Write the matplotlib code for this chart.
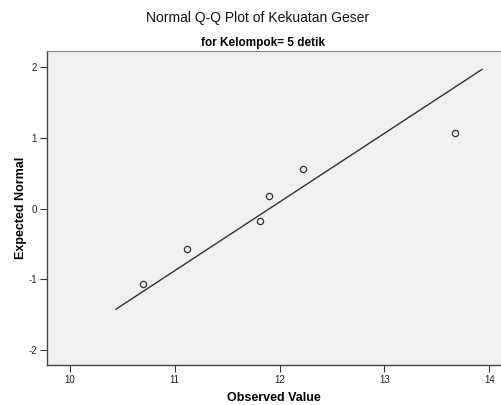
import numpy as np
import matplotlib.pyplot as plt

# observed values (Kekuatan Geser, Kelompok = 5 detik) and expected normal
observed = [10.70, 11.12, 11.81, 11.90, 12.22, 13.67]
expected = [-1.068, -0.566, -0.180, 0.180, 0.566, 1.068]

# reference line spans this range of observed values
line_x = [10.44, 13.93]

x_ticks = [10, 11, 12, 13, 14]
y_ticks = [-2, -1, 0, 1, 2]

plt.rcParams['font.family'] = ['Liberation Sans', 'DejaVu Sans']
plt.rcParams['axes.unicode_minus'] = False

fig = plt.figure(figsize=(5.02, 4.05), dpi=100)
ax = fig.add_axes([0.093, 0.099, 0.907, 0.776])
ax.set_facecolor('#f0f0f0')

mean = np.mean(observed)
sd = np.std(observed, ddof=1)
lx = np.array(line_x)
ax.plot(lx, (lx - mean) / sd, color='#333333', lw=1.0)

ax.plot(observed, expected, 'o', mfc='none', mec='#333333', ms=4.5, mew=0.9)

ax.set_xlim(9.78, 14.12)
ax.set_ylim(-2.21, 2.235)
ax.set_xticks(x_ticks)
ax.set_yticks(y_ticks)
ax.tick_params(labelsize=7, length=5, width=0.8, color='#333333',
               labelcolor='#222222', pad=2)

for side in ['left', 'bottom']:
    ax.spines[side].set_color('#444444')
    ax.spines[side].set_linewidth(1.0)
ax.spines['top'].set_color('#888888')
ax.spines['right'].set_visible(False)

ax.set_xlabel('Observed Value', fontsize=9, fontweight='bold', labelpad=5)
ax.set_ylabel('Expected Normal', fontsize=9, fontweight='bold', labelpad=1)

fig.text(0.514, 0.955, 'Normal Q-Q Plot of Kekuatan Geser', ha='center', va='center',
         fontsize=10, color='#111111')
fig.text(0.524, 0.894, 'for Kelompok= 5 detik', ha='center', va='center', fontsize=8.5, fontweight='bold')

fig.savefig('out.png', dpi=100)
